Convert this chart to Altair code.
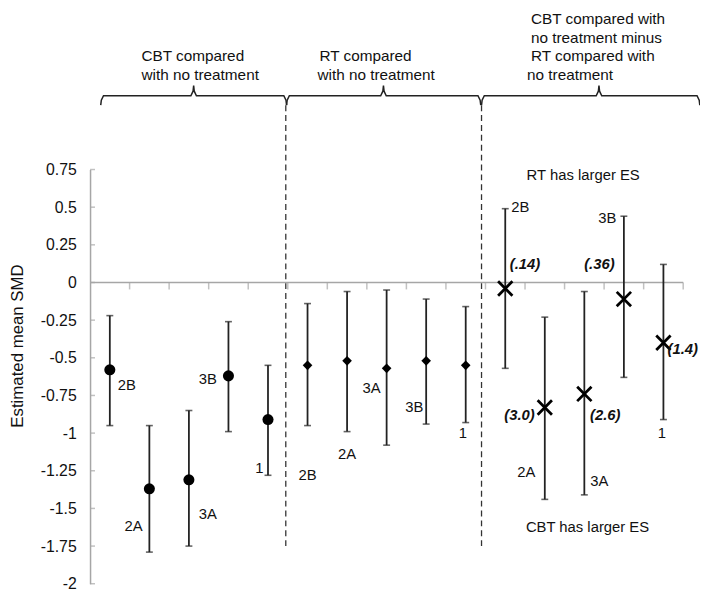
import altair as alt
import pandas as pd

# ---- data ----
labels = ["2B", "2A", "3A", "3B", "1"]

cbt_est = [-0.58, -1.37, -1.31, -0.62, -0.91]
cbt_lo = [-0.95, -1.79, -1.75, -0.99, -1.28]
cbt_hi = [-0.22, -0.95, -0.85, -0.26, -0.55]

rt_est = [-0.55, -0.52, -0.57, -0.52, -0.55]
rt_lo = [-0.95, -0.99, -1.08, -0.94, -0.93]
rt_hi = [-0.14, -0.06, -0.05, -0.11, -0.16]

diff_est = [-0.04, -0.83, -0.74, -0.11, -0.40]
diff_lo = [-0.57, -1.44, -1.41, -0.63, -0.91]
diff_hi = [0.49, -0.23, -0.06, 0.44, 0.12]
diff_vals = ["(.14)", "(3.0)", "(2.6)", "(.36)", "(1.4)"]

# label anchor positions (data units)
cbt_lab_x = [0.93, 1.10, 2.98, 2.98, 4.28]
cbt_lab_y = [-0.68, -1.62, -1.54, -0.64, -1.23]
rt_lab_x = [5.50, 6.50, 7.12, 8.20, 9.43]
rt_lab_y = [-1.28, -1.14, -0.70, -0.83, -1.00]
diff_lab_x = [10.88, 11.03, 12.88, 13.08, 14.46]
diff_lab_y = [0.50, -1.26, -1.32, 0.43, -1.00]
val_lab_x = [11.00, 10.86, 13.03, 12.88, 14.99]
val_lab_y = [0.12, -0.88, -0.88, 0.12, -0.44]

y_ticks = [0.75, 0.5, 0.25, 0, -0.25, -0.5, -0.75, -1, -1.25, -1.5, -1.75, -2]
x_ticks = list(range(1, 16))

group_titles = [
    ("CBT compared", 1.30, 1.504), ("with no treatment", 1.30, 1.380),
    ("RT compared", 5.80, 1.504), ("with no treatment", 5.75, 1.380),
    ("CBT compared with", 11.15, 1.746), ("no treatment minus", 11.15, 1.622),
    ("RT compared with", 11.15, 1.504), ("no treatment", 11.05, 1.380),
]
side_notes = [("RT has larger ES", 12.47, 0.715), ("CBT has larger ES", 12.58, -1.625)]

# braces: start, tip, end (data units) and heights
braces = [(0.27, 2.62, 4.97), (4.97, 7.42, 9.88), (9.90, 12.87, 15.42)]
brace_h, brace_low, brace_tip = 1.240, 1.177, 1.308
dividers = [4.95, 9.90]
divider_top, divider_bottom = 1.177, -1.75

# ---- tables ----
rows = []
for g, (est, lo, hi, lx, ly) in enumerate([
    (cbt_est, cbt_lo, cbt_hi, cbt_lab_x, cbt_lab_y),
    (rt_est, rt_lo, rt_hi, rt_lab_x, rt_lab_y),
    (diff_est, diff_lo, diff_hi, diff_lab_x, diff_lab_y),
]):
    for i in range(5):
        rows.append(dict(group=g, label=labels[i], x=g * 5 + i + 0.5,
                         est=est[i], lo=lo[i], hi=hi[i], lx=lx[i], ly=ly[i]))
df = pd.DataFrame(rows)

vals_df = pd.DataFrame(dict(text=diff_vals, x=val_lab_x, y=val_lab_y))
titles_df = pd.DataFrame(group_titles, columns=["text", "x", "y"])
notes_df = pd.DataFrame(side_notes, columns=["text", "x", "y"])

b_rows = []
for b, (x0, xc, x1) in enumerate(braces):
    pts = [(x0, brace_low), (x0 + 0.015, brace_h - 0.03), (x0 + 0.07, brace_h),
           (xc - 0.07, brace_h), (xc - 0.015, brace_h + 0.03), (xc, brace_tip),
           (xc + 0.015, brace_h + 0.03), (xc + 0.07, brace_h),
           (x1 - 0.07, brace_h), (x1 - 0.015, brace_h - 0.03), (x1, brace_low)]
    for k, (px, py) in enumerate(pts):
        b_rows.append(dict(brace=b, k=k, x=px, y=py))
brace_df = pd.DataFrame(b_rows)

div_df = pd.DataFrame(dict(x=dividers, y=[divider_top] * 2, y2=[divider_bottom] * 2))
xt_df = pd.DataFrame(dict(x=x_ticks, y=[0] * len(x_ticks)))
yt_df = pd.DataFrame(dict(x=[0] * len(y_ticks), y=y_ticks))
zero_df = pd.DataFrame(dict(x=[0], x2=[15], y=[0]))

FONT = "Liberation Sans"
xscale = alt.Scale(domain=[0, 15], nice=False, zero=False)
yscale = alt.Scale(domain=[-2, 0.75], nice=False, zero=False)
yaxis = alt.Axis(values=y_ticks, title="Estimated mean SMD", labelExpr="'' + datum.value",
                 grid=False, ticks=False, labelPadding=14, labelFont=FONT,
                 labelFontSize=16, labelColor="#111", titleFont=FONT, titleFontSize=17,
                 titleFontWeight="normal", titleColor="#111", domainColor="#a6a6a6",
                 domainWidth=1.5, titleAngle=270, titleAlign="center",
                 titleBaseline="middle", titleX=-73, titleY=178)


def X(f="x"):
    return alt.X(f"{f}:Q", scale=xscale, axis=None)


def Y(f="y"):
    return alt.Y(f"{f}:Q", scale=yscale, axis=yaxis)


base = alt.Chart(df)

zero_line = alt.Chart(zero_df).mark_rule(color="#a6a6a6", strokeWidth=1.5).encode(
    x=X(), x2="x2:Q", y=Y())
x_tick_marks = alt.Chart(xt_df).mark_tick(orient="vertical", size=7, thickness=1.5,
                                          yOffset=3.5, color="#a6a6a6").encode(x=X(), y=Y())
y_tick_marks = alt.Chart(yt_df).mark_tick(orient="horizontal", size=5, thickness=1.5,
                                          xOffset=2.5, color="#a6a6a6").encode(x=X(), y=Y())

dividers_layer = alt.Chart(div_df).mark_rule(color="#333", strokeWidth=1.3,
                                             strokeDash=[6, 4]).encode(
    x=X(), y=Y(), y2="y2:Q")

brace_layer = alt.Chart(brace_df).mark_line(color="#222", strokeWidth=1.5,
                                            interpolate="linear").encode(
    x=X(), y=Y(), detail="brace:N", order="k:Q")

bars = base.mark_rule(color="#222", strokeWidth=1.8).encode(x=X(), y=Y("lo"), y2="hi:Q")
caps = base.transform_fold(["lo", "hi"], as_=["end", "v"]).mark_tick(
    orient="horizontal", size=7, thickness=1.6, color="#222").encode(x=X(), y=Y("v"))

circles = base.transform_filter("datum.group == 0").mark_point(
    shape="circle", filled=True, size=125, color="#000", opacity=1).encode(x=X(), y=Y("est"))
diamonds = base.transform_filter("datum.group == 1").mark_point(
    shape="diamond", filled=True, size=95, color="#000", opacity=1).encode(x=X(), y=Y("est"))
crosses = base.transform_filter("datum.group == 2").mark_point(
    shape="M-1,-1L1,1M-1,1L1,-1", filled=False, size=210, color="#000",
    strokeWidth=2.8, opacity=1).encode(x=X(), y=Y("est"))

point_labels = base.mark_text(font=FONT, fontSize=15, color="#111",
                              baseline="middle", align="center").encode(
    x=X("lx"), y=Y("ly"), text="label:N")
value_labels = alt.Chart(vals_df).mark_text(font=FONT, fontSize=15, fontWeight="bold",
                                            fontStyle="italic", color="#111",
                                            baseline="middle", align="center").encode(
    x=X(), y=Y(), text="text:N")
title_labels = alt.Chart(titles_df).mark_text(font=FONT, fontSize=15.5, color="#111",
                                              baseline="middle", align="left").encode(
    x=X(), y=Y(), text="text:N")
note_labels = alt.Chart(notes_df).mark_text(font=FONT, fontSize=15, color="#111",
                                            baseline="middle", align="center").encode(
    x=X(), y=Y(), text="text:N")

chart = alt.layer(
    zero_line, x_tick_marks, y_tick_marks, dividers_layer, brace_layer,
    bars, caps, circles, diamonds, crosses,
    point_labels, value_labels, title_labels, note_labels,
).properties(
    width=600, height=419,
    autosize=alt.AutoSizeParams(type="none"),
    padding={"left": 83, "top": 160, "right": 17, "bottom": 7},
    background="white",
).configure_view(stroke=None, strokeWidth=0)

chart.save("out.html", embed_options={"renderer": "svg", "actions": False})
